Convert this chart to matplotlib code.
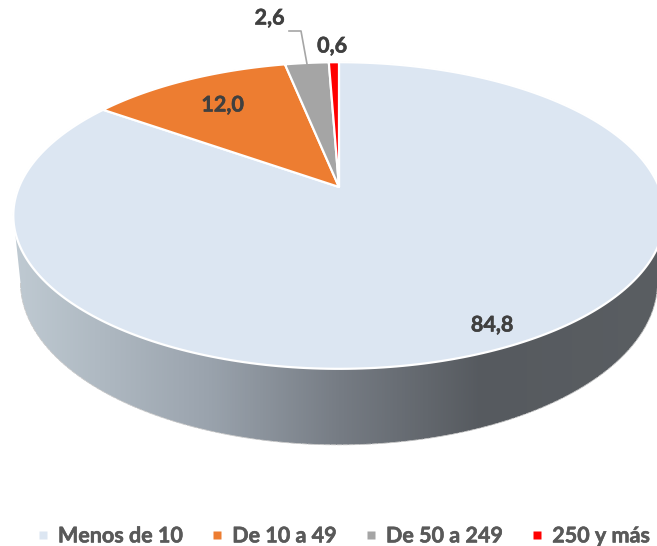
# -*- coding: utf-8 -*-
import matplotlib
matplotlib.use('Agg')
import matplotlib.pyplot as plt
import matplotlib.patheffects as pe
from matplotlib.colors import LinearSegmentedColormap
from matplotlib.lines import Line2D
from matplotlib.patches import Polygon
import numpy as np

plt.rcParams['font.family'] = ['Lato', 'DejaVu Sans']

#%% Data
categories = ['Menos de 10', 'De 10 a 49', 'De 50 a 249', '250 y más']
values = [84.8, 12.0, 2.6, 0.6]
value_labels = ['84,8', '12,0', '2,6', '0,6']
colors = ['#dce6f2', '#ed7d31', '#a5a5a5', '#ff0000']

# Pixel position of each value label
label_x = [492, 222.5, 269.5, 332]
label_y = [325, 105, 18, 46]

# Side shading from left to right
side_stops = [0.0, 0.3, 0.5, 0.72, 1.0]
side_colors = ['#bfcad2', '#9aa3ad', '#767c84', '#565a5f', '#5a5e62']


#%% Perspective disc
def project(theta, x0, y0, a, b, k=0.186):
    """Clockwise angle from 12 o'clock to picture coordinates."""
    u = np.sin(theta)
    v = np.cos(theta)
    den = 1 + k * v
    return x0 + a * u / den, y0 - b * v / den


top = dict(x0=339, y0=187, a=320, b=148)
low = dict(x0=339, y0=252, a=313, b=157)

fig = plt.figure(figsize=(6.57, 5.46), dpi=100)
ax = fig.add_axes([0, 0, 1, 1])

# Side of the pie
turn = np.arccos(-0.186)
arc = np.linspace(turn, 2 * np.pi - turn, 300)
xt, yt = project(arc, **top)
xl, yl = project(arc, **low)
side = Polygon(
    np.r_[np.c_[xt, yt], np.c_[xl, yl][::-1]],
    closed=True, transform=ax.transData, facecolor='none', edgecolor='none'
    )
ax.add_patch(side)
cmap = LinearSegmentedColormap.from_list('side', list(zip(side_stops, side_colors)))
im = ax.imshow(
    np.linspace(0, 1, 512).reshape(1, -1),
    cmap=cmap, aspect='auto', extent=(14, 664, 546, 0), zorder=1
    )
im.set_clip_path(side)

# Thin outline around the body
ax.plot(xl, yl, color='#c8c8c8', lw=0.6, ls=(0, (6, 1)), zorder=2)
tt = np.linspace(-turn, turn, 400)
ax.plot(*project(tt, **top), color='#c8c8c8', lw=0.6, ls=(0, (6, 1)), zorder=2)

# Top face slices, clockwise from 12 o'clock
edges = np.r_[0, np.cumsum(values)] / np.sum(values) * 2 * np.pi
for start, end, color in zip(edges[:-1], edges[1:], colors):
    tt = np.linspace(start, end, 300)
    xs, ys = project(tt, **top)
    ax.fill(
        np.r_[top['x0'], xs], np.r_[top['y0'], ys],
        facecolor=color, edgecolor='white', lw=1.6, joinstyle='round', zorder=3
        )

# Leader line of the 2,6 label
ax.plot([289, 301, 307], [31, 31, 64], color='#a6a6a6', lw=1.2, zorder=4)

# Value labels
for xx, yy, txt in zip(label_x, label_y, value_labels):
    ax.text(xx, yy, txt, ha='center', va='center', fontsize=15.5,
            fontweight='bold', color='#404040', zorder=5,
            path_effects=[pe.withStroke(linewidth=0.4, foreground='#404040')])

ax.set_xlim(0, 657)
ax.set_ylim(546, 0)
ax.axis('off')

# Legend
handles = [
    Line2D([], [], ls='none', marker='s', ms=6, mec='none', mfc=cc)
    for cc in colors
    ]
leg = ax.legend(
    handles, categories, ncol=4, loc='center', bbox_to_anchor=(0.519, 0.0185),
    frameon=False, handletextpad=0.2, columnspacing=1.1, handlelength=1.0,
    prop=dict(size=15.5, weight='bold'), labelcolor='#595959'
    )
for tx in leg.get_texts():
    tx.set_path_effects([pe.withStroke(linewidth=0.4, foreground='#595959')])

fig.savefig('out.png', dpi=100)
